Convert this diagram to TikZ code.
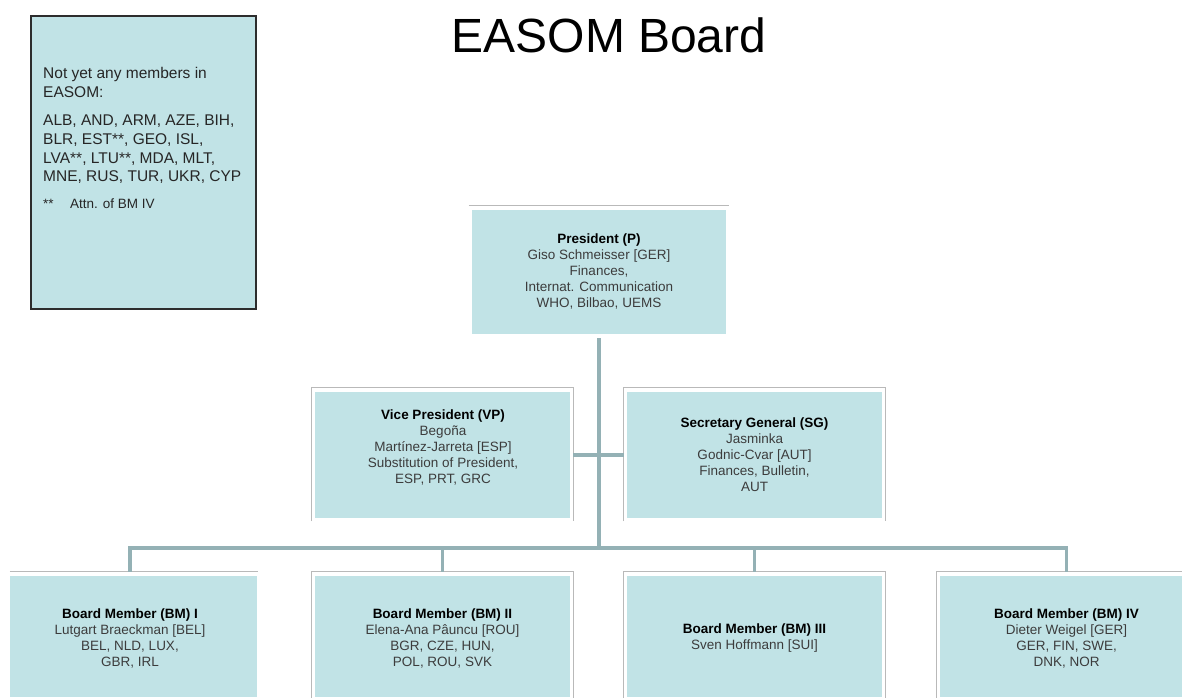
\documentclass[tikz,border=0pt]{standalone}
\usepackage{fontspec}
\setmainfont{Liberation Sans}
\definecolor{boxblue}{RGB}{193,227,230}
\definecolor{conncol}{RGB}{148,177,181}
\definecolor{framegrey}{RGB}{185,185,185}
\definecolor{txtgrey}{RGB}{60,60,60}
\definecolor{notebord}{RGB}{45,45,45}
\newcommand{\hd}[1]{\textcolor{black}{\textbf{#1}}}
\begin{document}
\begin{tikzpicture}[x=1pt,y=-1pt,
  fillbox/.style={fill=boxblue, draw=none, inner sep=0pt},
  frame/.style={draw=framegrey, line width=1.2pt},
  conn/.style={draw=conncol, line width=3.6pt},
  boxtxt/.style={align=center, inner sep=0pt, text=txtgrey, font=\fontsize{13.5}{16}\selectfont},
  notetxt/.style={align=left, inner sep=0pt, anchor=north west, text=black!85, font=\fontsize{15.5}{18.6}\selectfont}
]
\useasboundingbox (0,0) rectangle (1182,697);
\fill[white] (0,0) rectangle (1182,697);

% title
\node[inner sep=0pt, font=\fontsize{48}{56}\selectfont] (title) at (609,35) {EASOM Board};

% note box
\node[fill=boxblue, draw=notebord, line width=1.4pt, inner sep=0pt, minimum width=225pt, minimum height=293pt] (note) at (143.5,162.5) {};
\node[notetxt] (n1) at (43,67) {Not yet any members in\\EASOM:};
\node[notetxt] (n2) at (43,115) {ALB, AND, ARM, AZE, BIH,\\BLR, EST**, GEO, ISL,\\LVA**, LTU**, MDA, MLT,\\MNE, RUS, TUR, UKR, CYP};
\node[notetxt, font=\fontsize{13.5}{16}\selectfont] (n3) at (43,199) {\makebox[27pt][l]{**}Attn. of BM IV};

% boxes
\node[fillbox, minimum width=254pt, minimum height=124pt] (pres) at (599,272) {};
\node[fillbox, minimum width=255pt, minimum height=126pt] (vp) at (442.5,455) {};
\node[fillbox, minimum width=255pt, minimum height=126pt] (sg) at (754.5,455) {};
\node[fillbox, minimum width=247pt, minimum height=121pt] (bm1) at (133.5,636.5) {};
\node[fillbox, minimum width=255pt, minimum height=121pt] (bm2) at (442.5,636.5) {};
\node[fillbox, minimum width=255pt, minimum height=121pt] (bm3) at (754.5,636.5) {};
\node[fillbox, minimum width=255pt, minimum height=121pt] (bm4) at (1067.5,636.5) {};

% frames
\draw[frame] ([shift={(-3pt,4pt)}]pres.north west) -- ([shift={(3pt,4pt)}]pres.north east);
\foreach \b in {vp,sg}{
  \draw[frame] ([shift={(-3pt,-3pt)}]\b.south west) -- ([shift={(-3pt,4pt)}]\b.north west) -- ([shift={(3pt,4pt)}]\b.north east) -- ([shift={(3pt,-3pt)}]\b.south east);
}
\draw[frame] ([shift={(0pt,4pt)}]bm1.north west) -- ([shift={(1pt,4pt)}]bm1.north east);
\foreach \b in {bm2,bm3,bm4}{
  \draw[frame] ([shift={(-3pt,-3pt)}]\b.south west) -- ([shift={(-3pt,4pt)}]\b.north west) -- ([shift={(3pt,4pt)}]\b.north east) -- ([shift={(3pt,-3pt)}]\b.south east);
}

% connectors
\coordinate (bmid) at (599,548);
\coordinate (b1) at (130,548);
\coordinate (b2) at (442.5,548);
\coordinate (b3) at (754.5,548);
\coordinate (b4) at (1066.5,548);
\draw[conn] ([yshift=-4pt]pres.south) -- (bmid);
\draw[conn, shorten <=3pt, shorten >=3pt] (vp.east) -- (sg.west);
\draw[conn, line join=miter] ([yshift=4pt]b1 |- bm1.north) -- (b1) -- (b4) -- ([yshift=4pt]b4 |- bm4.north);
\draw[conn] (b2) -- ([yshift=4pt]bm2.north);
\draw[conn] (b3) -- ([yshift=4pt]bm3.north);

% texts
\node[boxtxt] (ptxt) at (599,271) {\hd{President (P)}\\Giso Schmeisser [GER]\\Finances,\\Internat. Communication\\WHO, Bilbao, UEMS};
\node[boxtxt] (vptxt) at (443,447) {\hd{Vice President (VP)}\\Begoña\\Martínez-Jarreta [ESP]\\Substitution of President,\\ESP, PRT, GRC};
\node[boxtxt] (sgtxt) at (754.5,455) {\hd{Secretary General (SG)}\\Jasminka\\Godnic-Cvar [AUT]\\Finances, Bulletin,\\AUT};
\node[boxtxt] (t1) at (130,638) {\hd{Board Member (BM) I}\\Lutgart Braeckman [BEL]\\BEL, NLD, LUX,\\GBR, IRL};
\node[boxtxt] (t2) at (442.5,638) {\hd{Board Member (BM) II}\\Elena-Ana Pâuncu [ROU]\\BGR, CZE, HUN,\\POL, ROU, SVK};
\node[boxtxt] (t3) at (754.5,638) {\hd{Board Member (BM) III}\\Sven Hoffmann [SUI]};
\node[boxtxt] (t4) at (1066.5,638) {\hd{Board Member (BM) IV}\\Dieter Weigel [GER]\\GER, FIN, SWE,\\DNK, NOR};
\end{tikzpicture}
\end{document}
